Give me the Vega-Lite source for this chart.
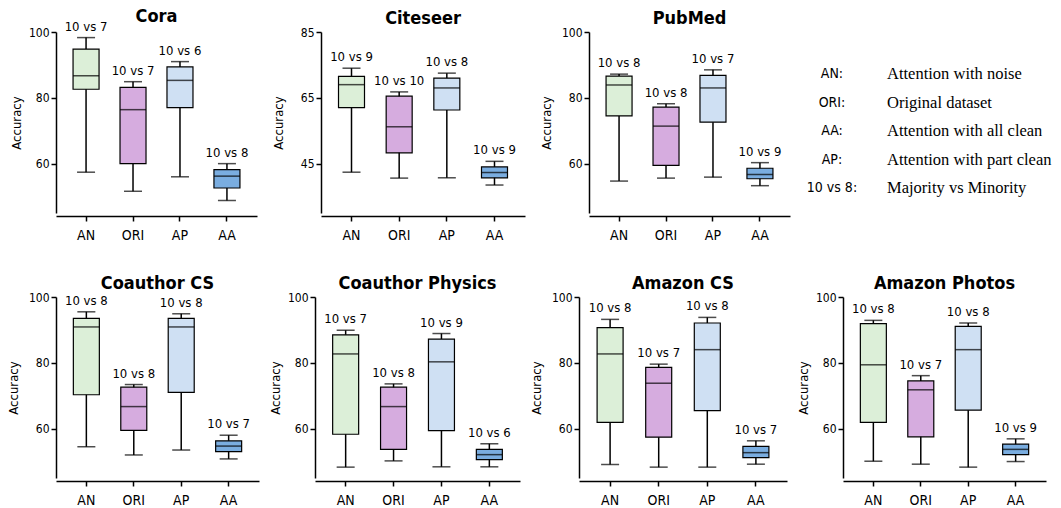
{
  "$schema": "https://vega.github.io/schema/vega-lite/v6.json",
  "padding": {"left": 7, "top": 8, "right": 5, "bottom": 5},
  "background": "white",
  "datasets": {
    "box": [
      {"d": "Cora", "m": "AN", "lo": 57.4, "q1": 82.6, "med": 86.7, "q3": 94.8, "hi": 98.3, "lab": "10 vs 7"},
      {"d": "Cora", "m": "ORI", "lo": 51.6, "q1": 60.0, "med": 76.4, "q3": 83.2, "hi": 84.9, "lab": "10 vs 7"},
      {"d": "Cora", "m": "AP", "lo": 56.0, "q1": 77.0, "med": 85.3, "q3": 89.4, "hi": 91.0, "lab": "10 vs 6"},
      {"d": "Cora", "m": "AA", "lo": 48.8, "q1": 52.6, "med": 56.2, "q3": 58.2, "hi": 60.0, "lab": "10 vs 8"},
      {"d": "Citeseer", "m": "AN", "lo": 42.4, "q1": 62.0, "med": 69.0, "q3": 71.5, "hi": 74.0, "lab": "10 vs 9"},
      {"d": "Citeseer", "m": "ORI", "lo": 40.6, "q1": 48.3, "med": 56.2, "q3": 65.5, "hi": 66.8, "lab": "10 vs 10"},
      {"d": "Citeseer", "m": "AP", "lo": 40.7, "q1": 61.3, "med": 68.0, "q3": 71.0, "hi": 72.5, "lab": "10 vs 8"},
      {"d": "Citeseer", "m": "AA", "lo": 38.5, "q1": 40.7, "med": 42.3, "q3": 44.0, "hi": 45.7, "lab": "10 vs 9"},
      {"d": "PubMed", "m": "AN", "lo": 54.7, "q1": 74.5, "med": 83.9, "q3": 86.6, "hi": 87.2, "lab": "10 vs 8"},
      {"d": "PubMed", "m": "ORI", "lo": 55.6, "q1": 59.5, "med": 71.4, "q3": 77.2, "hi": 78.2, "lab": "10 vs 8"},
      {"d": "PubMed", "m": "AP", "lo": 55.9, "q1": 72.6, "med": 83.0, "q3": 86.8, "hi": 88.5, "lab": "10 vs 7"},
      {"d": "PubMed", "m": "AA", "lo": 53.3, "q1": 55.4, "med": 56.7, "q3": 58.6, "hi": 60.3, "lab": "10 vs 9"},
      {"d": "Coauthor CS", "m": "AN", "lo": 54.5, "q1": 70.3, "med": 90.9, "q3": 93.5, "hi": 95.5, "lab": "10 vs 8"},
      {"d": "Coauthor CS", "m": "ORI", "lo": 52.0, "q1": 59.5, "med": 66.7, "q3": 72.6, "hi": 73.4, "lab": "10 vs 8"},
      {"d": "Coauthor CS", "m": "AP", "lo": 53.5, "q1": 71.0, "med": 90.9, "q3": 93.5, "hi": 94.9, "lab": "10 vs 8"},
      {"d": "Coauthor CS", "m": "AA", "lo": 50.8, "q1": 53.0, "med": 54.7, "q3": 56.3, "hi": 58.0, "lab": "10 vs 7"},
      {"d": "Coauthor Physics", "m": "AN", "lo": 48.3, "q1": 58.3, "med": 82.7, "q3": 88.5, "hi": 89.9, "lab": "10 vs 7"},
      {"d": "Coauthor Physics", "m": "ORI", "lo": 50.2, "q1": 53.7, "med": 66.7, "q3": 72.6, "hi": 73.6, "lab": "10 vs 8"},
      {"d": "Coauthor Physics", "m": "AP", "lo": 48.4, "q1": 59.4, "med": 80.3, "q3": 87.2, "hi": 88.9, "lab": "10 vs 9"},
      {"d": "Coauthor Physics", "m": "AA", "lo": 48.4, "q1": 50.6, "med": 52.1, "q3": 53.7, "hi": 55.4, "lab": "10 vs 6"},
      {"d": "Amazon CS", "m": "AN", "lo": 49.1, "q1": 61.9, "med": 82.7, "q3": 90.7, "hi": 93.2, "lab": "10 vs 8"},
      {"d": "Amazon CS", "m": "ORI", "lo": 48.3, "q1": 57.4, "med": 73.8, "q3": 78.6, "hi": 79.6, "lab": "10 vs 7"},
      {"d": "Amazon CS", "m": "AP", "lo": 48.3, "q1": 65.5, "med": 84.0, "q3": 92.1, "hi": 93.8, "lab": "10 vs 8"},
      {"d": "Amazon CS", "m": "AA", "lo": 49.2, "q1": 51.2, "med": 52.7, "q3": 54.6, "hi": 56.3, "lab": "10 vs 7"},
      {"d": "Amazon Photos", "m": "AN", "lo": 50.1, "q1": 61.9, "med": 79.4, "q3": 91.9, "hi": 92.9, "lab": "10 vs 8"},
      {"d": "Amazon Photos", "m": "ORI", "lo": 49.2, "q1": 57.5, "med": 71.8, "q3": 74.5, "hi": 76.1, "lab": "10 vs 7"},
      {"d": "Amazon Photos", "m": "AP", "lo": 48.3, "q1": 65.6, "med": 84.0, "q3": 91.1, "hi": 92.1, "lab": "10 vs 8"},
      {"d": "Amazon Photos", "m": "AA", "lo": 50.0, "q1": 52.1, "med": 53.7, "q3": 55.3, "hi": 56.9, "lab": "10 vs 9"}
    ],
    "leg": [
      {"row": 1, "col": "key", "t": "AN:"},
      {"row": 1, "col": "desc", "t": "Attention with noise"},
      {"row": 2, "col": "key", "t": "ORI:"},
      {"row": 2, "col": "desc", "t": "Original dataset"},
      {"row": 3, "col": "key", "t": "AA:"},
      {"row": 3, "col": "desc", "t": "Attention with  all  clean"},
      {"row": 4, "col": "key", "t": "AP:"},
      {"row": 4, "col": "desc", "t": "Attention with part clean"},
      {"row": 5, "col": "key", "t": "10 vs 8:"},
      {"row": 5, "col": "desc", "t": "Majority vs Minority"}
    ]
  },
  "config": {
    "font": "DejaVu Sans Condensed, Liberation Sans Narrow, Roboto, sans-serif",
    "view": {"stroke": null},
    "axis": {"domainColor": "black", "domainWidth": 1.5, "tickColor": "black", "tickWidth": 1.5, "tickSize": 5, "labelColor": "black", "titleColor": "black", "titleFontWeight": "normal", "grid": false, "labelFont": "DejaVu Sans Condensed, Liberation Sans Narrow, Roboto, sans-serif", "titleFont": "DejaVu Sans Condensed, Liberation Sans Narrow, Roboto, sans-serif"},
    "axisX": {"labelFontSize": 14, "labelAngle": 0, "offset": 3, "labelPadding": 7, "title": null},
    "axisY": {"labelFontSize": 12, "titleFontSize": 13, "minExtent": 28, "maxExtent": 28, "titlePadding": 5, "labelPadding": 2},
    "title": {"font": "DejaVu Sans Condensed, Liberation Sans Narrow, Roboto, sans-serif", "fontSize": 18, "fontWeight": "bold", "color": "black", "offset": -1.5, "frame": "group"},
    "text": {"color": "black", "font": "DejaVu Sans Condensed, Liberation Sans Narrow, Roboto, sans-serif"}
  },
  "spacing": 32,
  "vconcat": [
    {
      "spacing": 15,
      "hconcat": [
        {
          "title": {"text": "Cora", "offset": -5.5}, "width": 201, "height": 181,
          "data": {"name": "box"},
          "transform": [{"filter": "datum.d === 'Cora'"}],
          "encoding": {"x": {"field": "m", "type": "nominal", "sort": ["AN", "ORI", "AP", "AA"], "scale": {"paddingInner": 0, "paddingOuter": 0.14}}},
          "layer": [
            {"mark": {"type": "rule", "color": "black", "strokeWidth": 1.5}, "encoding": {"y": {"field": "lo", "type": "quantitative", "scale": {"domain": [48.3, 100]}, "axis": {"values": [60, 80, 100], "title": "Accuracy"}}, "y2": {"field": "hi"}}},
            {"mark": {"type": "tick", "color": "black", "size": 18, "thickness": 1.5}, "encoding": {"y": {"field": "lo", "type": "quantitative"}}},
            {"mark": {"type": "tick", "color": "black", "size": 18, "thickness": 1.5}, "encoding": {"y": {"field": "hi", "type": "quantitative"}}},
            {"mark": {"type": "bar", "size": 26, "stroke": "black", "strokeWidth": 1.2}, "encoding": {"y": {"field": "q1", "type": "quantitative"}, "y2": {"field": "q3"}, "color": {"field": "m", "type": "nominal", "scale": {"domain": ["AN", "ORI", "AP", "AA"], "range": ["#dcefd8", "#d6acdf", "#cfe0f3", "#7aade0"]}, "legend": null}}},
            {"mark": {"type": "tick", "color": "black", "size": 26, "thickness": 1.5}, "encoding": {"y": {"field": "med", "type": "quantitative"}}},
            {"mark": {"type": "text", "baseline": "bottom", "dy": -4, "fontSize": 13}, "encoding": {"y": {"field": "hi", "type": "quantitative"}, "text": {"field": "lab"}}}
          ]
        },
        {
          "title": "Citeseer", "width": 204, "height": 181,
          "data": {"name": "box"},
          "transform": [{"filter": "datum.d === 'Citeseer'"}],
          "encoding": {"x": {"field": "m", "type": "nominal", "sort": ["AN", "ORI", "AP", "AA"], "scale": {"paddingInner": 0, "paddingOuter": 0.14}}},
          "layer": [
            {"mark": {"type": "rule", "color": "black", "strokeWidth": 1.5}, "encoding": {"y": {"field": "lo", "type": "quantitative", "scale": {"domain": [33.3, 85]}, "axis": {"values": [45, 65, 85], "title": "Accuracy", "titlePadding": 8}}, "y2": {"field": "hi"}}},
            {"mark": {"type": "tick", "color": "black", "size": 18, "thickness": 1.5}, "encoding": {"y": {"field": "lo", "type": "quantitative"}}},
            {"mark": {"type": "tick", "color": "black", "size": 18, "thickness": 1.5}, "encoding": {"y": {"field": "hi", "type": "quantitative"}}},
            {"mark": {"type": "bar", "size": 26, "stroke": "black", "strokeWidth": 1.2}, "encoding": {"y": {"field": "q1", "type": "quantitative"}, "y2": {"field": "q3"}, "color": {"field": "m", "type": "nominal", "scale": {"domain": ["AN", "ORI", "AP", "AA"], "range": ["#dcefd8", "#d6acdf", "#cfe0f3", "#7aade0"]}, "legend": null}}},
            {"mark": {"type": "tick", "color": "black", "size": 26, "thickness": 1.5}, "encoding": {"y": {"field": "med", "type": "quantitative"}}},
            {"mark": {"type": "text", "baseline": "bottom", "dy": -4, "fontSize": 13}, "encoding": {"y": {"field": "hi", "type": "quantitative"}, "text": {"field": "lab"}}}
          ]
        },
        {
          "title": "PubMed", "width": 201, "height": 181,
          "data": {"name": "box"},
          "transform": [{"filter": "datum.d === 'PubMed'"}],
          "encoding": {"x": {"field": "m", "type": "nominal", "sort": ["AN", "ORI", "AP", "AA"], "scale": {"paddingInner": 0, "paddingOuter": 0.14}}},
          "layer": [
            {"mark": {"type": "rule", "color": "black", "strokeWidth": 1.5}, "encoding": {"y": {"field": "lo", "type": "quantitative", "scale": {"domain": [48.3, 100]}, "axis": {"values": [60, 80, 100], "title": "Accuracy", "titlePadding": 8}}, "y2": {"field": "hi"}}},
            {"mark": {"type": "tick", "color": "black", "size": 18, "thickness": 1.5}, "encoding": {"y": {"field": "lo", "type": "quantitative"}}},
            {"mark": {"type": "tick", "color": "black", "size": 18, "thickness": 1.5}, "encoding": {"y": {"field": "hi", "type": "quantitative"}}},
            {"mark": {"type": "bar", "size": 26, "stroke": "black", "strokeWidth": 1.2}, "encoding": {"y": {"field": "q1", "type": "quantitative"}, "y2": {"field": "q3"}, "color": {"field": "m", "type": "nominal", "scale": {"domain": ["AN", "ORI", "AP", "AA"], "range": ["#dcefd8", "#d6acdf", "#cfe0f3", "#7aade0"]}, "legend": null}}},
            {"mark": {"type": "tick", "color": "black", "size": 26, "thickness": 1.5}, "encoding": {"y": {"field": "med", "type": "quantitative"}}},
            {"mark": {"type": "text", "baseline": "bottom", "dy": -4, "fontSize": 13}, "encoding": {"y": {"field": "hi", "type": "quantitative"}, "text": {"field": "lab"}}}
          ]
        },
        {
          "width": 109, "height": 200,
          "data": {"name": "leg"},
          "encoding": {
            "y": {"field": "row", "type": "quantitative", "scale": {"domain": [-0.474, 6.544], "reverse": true}, "axis": null},
            "x": {"field": "col", "type": "nominal", "scale": {"type": "point", "domain": ["key", "desc"], "padding": 0.49}, "axis": null}
          },
          "layer": [
            {"transform": [{"filter": "datum.col === 'key'"}], "mark": {"type": "text", "fontSize": 14, "align": "center", "baseline": "middle"}, "encoding": {"text": {"field": "t"}}},
            {"transform": [{"filter": "datum.col === 'desc'"}], "mark": {"type": "text", "fontSize": 16.5, "font": "Liberation Serif", "align": "left", "baseline": "middle"}, "encoding": {"text": {"field": "t"}}}
          ]
        }
      ]
    },
    {
      "spacing": 10,
      "hconcat": [
        {
          "title": "Coauthor CS", "width": 203, "height": 181,
          "data": {"name": "box"},
          "transform": [{"filter": "datum.d === 'Coauthor CS'"}],
          "encoding": {"x": {"field": "m", "type": "nominal", "sort": ["AN", "ORI", "AP", "AA"], "scale": {"paddingInner": 0, "paddingOuter": 0.14}}},
          "layer": [
            {"mark": {"type": "rule", "color": "black", "strokeWidth": 1.5}, "encoding": {"y": {"field": "lo", "type": "quantitative", "scale": {"domain": [48.3, 100]}, "axis": {"values": [60, 80, 100], "title": "Accuracy", "minExtent": 31, "maxExtent": 31}}, "y2": {"field": "hi"}}},
            {"mark": {"type": "tick", "color": "black", "size": 18, "thickness": 1.5}, "encoding": {"y": {"field": "lo", "type": "quantitative"}}},
            {"mark": {"type": "tick", "color": "black", "size": 18, "thickness": 1.5}, "encoding": {"y": {"field": "hi", "type": "quantitative"}}},
            {"mark": {"type": "bar", "size": 26, "stroke": "black", "strokeWidth": 1.2}, "encoding": {"y": {"field": "q1", "type": "quantitative"}, "y2": {"field": "q3"}, "color": {"field": "m", "type": "nominal", "scale": {"domain": ["AN", "ORI", "AP", "AA"], "range": ["#dcefd8", "#d6acdf", "#cfe0f3", "#7aade0"]}, "legend": null}}},
            {"mark": {"type": "tick", "color": "black", "size": 26, "thickness": 1.5}, "encoding": {"y": {"field": "med", "type": "quantitative"}}},
            {"mark": {"type": "text", "baseline": "bottom", "dy": -4, "fontSize": 13}, "encoding": {"y": {"field": "hi", "type": "quantitative"}, "text": {"field": "lab"}}}
          ]
        },
        {
          "title": "Coauthor Physics", "width": 205, "height": 181,
          "data": {"name": "box"},
          "transform": [{"filter": "datum.d === 'Coauthor Physics'"}],
          "encoding": {"x": {"field": "m", "type": "nominal", "sort": ["AN", "ORI", "AP", "AA"], "scale": {"paddingInner": 0, "paddingOuter": 0.14}}},
          "layer": [
            {"mark": {"type": "rule", "color": "black", "strokeWidth": 1.5}, "encoding": {"y": {"field": "lo", "type": "quantitative", "scale": {"domain": [48.3, 100]}, "axis": {"values": [60, 80, 100], "title": "Accuracy"}}, "y2": {"field": "hi"}}},
            {"mark": {"type": "tick", "color": "black", "size": 18, "thickness": 1.5}, "encoding": {"y": {"field": "lo", "type": "quantitative"}}},
            {"mark": {"type": "tick", "color": "black", "size": 18, "thickness": 1.5}, "encoding": {"y": {"field": "hi", "type": "quantitative"}}},
            {"mark": {"type": "bar", "size": 26, "stroke": "black", "strokeWidth": 1.2}, "encoding": {"y": {"field": "q1", "type": "quantitative"}, "y2": {"field": "q3"}, "color": {"field": "m", "type": "nominal", "scale": {"domain": ["AN", "ORI", "AP", "AA"], "range": ["#dcefd8", "#d6acdf", "#cfe0f3", "#7aade0"]}, "legend": null}}},
            {"mark": {"type": "tick", "color": "black", "size": 26, "thickness": 1.5}, "encoding": {"y": {"field": "med", "type": "quantitative"}}},
            {"mark": {"type": "text", "baseline": "bottom", "dy": -4, "fontSize": 13}, "encoding": {"y": {"field": "hi", "type": "quantitative"}, "text": {"field": "lab"}}}
          ]
        },
        {
          "title": "Amazon CS", "width": 208, "height": 181,
          "data": {"name": "box"},
          "transform": [{"filter": "datum.d === 'Amazon CS'"}],
          "encoding": {"x": {"field": "m", "type": "nominal", "sort": ["AN", "ORI", "AP", "AA"], "scale": {"paddingInner": 0, "paddingOuter": 0.14}}},
          "layer": [
            {"mark": {"type": "rule", "color": "black", "strokeWidth": 1.5}, "encoding": {"y": {"field": "lo", "type": "quantitative", "scale": {"domain": [48.3, 100]}, "axis": {"values": [60, 80, 100], "title": "Accuracy", "minExtent": 31, "maxExtent": 31}}, "y2": {"field": "hi"}}},
            {"mark": {"type": "tick", "color": "black", "size": 18, "thickness": 1.5}, "encoding": {"y": {"field": "lo", "type": "quantitative"}}},
            {"mark": {"type": "tick", "color": "black", "size": 18, "thickness": 1.5}, "encoding": {"y": {"field": "hi", "type": "quantitative"}}},
            {"mark": {"type": "bar", "size": 26, "stroke": "black", "strokeWidth": 1.2}, "encoding": {"y": {"field": "q1", "type": "quantitative"}, "y2": {"field": "q3"}, "color": {"field": "m", "type": "nominal", "scale": {"domain": ["AN", "ORI", "AP", "AA"], "range": ["#dcefd8", "#d6acdf", "#cfe0f3", "#7aade0"]}, "legend": null}}},
            {"mark": {"type": "tick", "color": "black", "size": 26, "thickness": 1.5}, "encoding": {"y": {"field": "med", "type": "quantitative"}}},
            {"mark": {"type": "text", "baseline": "bottom", "dy": -4, "fontSize": 13}, "encoding": {"y": {"field": "hi", "type": "quantitative"}, "text": {"field": "lab"}}}
          ]
        },
        {
          "title": "Amazon Photos", "width": 203, "height": 181,
          "data": {"name": "box"},
          "transform": [{"filter": "datum.d === 'Amazon Photos'"}],
          "encoding": {"x": {"field": "m", "type": "nominal", "sort": ["AN", "ORI", "AP", "AA"], "scale": {"paddingInner": 0, "paddingOuter": 0.14}}},
          "layer": [
            {"mark": {"type": "rule", "color": "black", "strokeWidth": 1.5}, "encoding": {"y": {"field": "lo", "type": "quantitative", "scale": {"domain": [48.3, 100]}, "axis": {"values": [60, 80, 100], "title": "Accuracy"}}, "y2": {"field": "hi"}}},
            {"mark": {"type": "tick", "color": "black", "size": 18, "thickness": 1.5}, "encoding": {"y": {"field": "lo", "type": "quantitative"}}},
            {"mark": {"type": "tick", "color": "black", "size": 18, "thickness": 1.5}, "encoding": {"y": {"field": "hi", "type": "quantitative"}}},
            {"mark": {"type": "bar", "size": 26, "stroke": "black", "strokeWidth": 1.2}, "encoding": {"y": {"field": "q1", "type": "quantitative"}, "y2": {"field": "q3"}, "color": {"field": "m", "type": "nominal", "scale": {"domain": ["AN", "ORI", "AP", "AA"], "range": ["#dcefd8", "#d6acdf", "#cfe0f3", "#7aade0"]}, "legend": null}}},
            {"mark": {"type": "tick", "color": "black", "size": 26, "thickness": 1.5}, "encoding": {"y": {"field": "med", "type": "quantitative"}}},
            {"mark": {"type": "text", "baseline": "bottom", "dy": -4, "fontSize": 13}, "encoding": {"y": {"field": "hi", "type": "quantitative"}, "text": {"field": "lab"}}}
          ]
        }
      ]
    }
  ]
}
